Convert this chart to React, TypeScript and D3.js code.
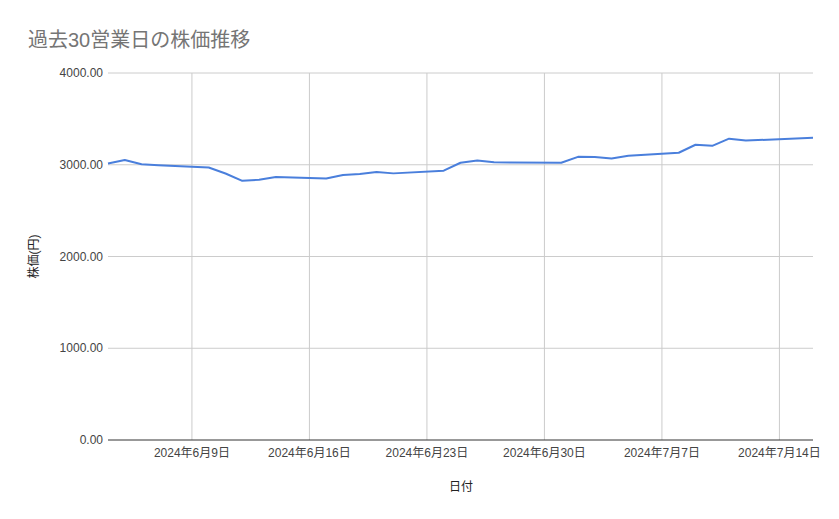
import React from "react";
import * as d3 from "d3";

const dates: string[] = [
  "2024-06-04", "2024-06-05", "2024-06-06", "2024-06-07",
  "2024-06-10", "2024-06-11", "2024-06-12", "2024-06-13", "2024-06-14",
  "2024-06-17", "2024-06-18", "2024-06-19", "2024-06-20", "2024-06-21",
  "2024-06-24", "2024-06-25", "2024-06-26", "2024-06-27", "2024-06-28",
  "2024-07-01", "2024-07-02", "2024-07-03", "2024-07-04", "2024-07-05",
  "2024-07-08", "2024-07-09", "2024-07-10", "2024-07-11", "2024-07-12",
  "2024-07-16",
];
const prices: number[] = [
  3014, 3052, 3006, 2995,
  2970, 2905, 2825, 2836, 2866,
  2850, 2888, 2899, 2921, 2906,
  2935, 3022, 3046, 3028, 3024,
  3022, 3086, 3084, 3068, 3097,
  3131, 3218, 3206, 3284, 3264,
  3293,
];
const xTickDates: string[] = ["2024-06-09", "2024-06-16", "2024-06-23", "2024-06-30", "2024-07-07", "2024-07-14"];
const yTicks: number[] = [0, 1000, 2000, 3000, 4000];

const W = 839;
const H = 519;
const M = { left: 108, right: 26, top: 73, bottom: 79 };
const FONT = "'Liberation Sans', Arial, 'Noto Sans CJK JP', sans-serif";

const parse = d3.timeParse("%Y-%m-%d");

export default function App() {
  const data = dates.map((d, i) => ({ date: parse(d) as Date, v: prices[i] }));
  const x = d3
    .scaleTime()
    .domain([parse(dates[0]) as Date, parse(dates[dates.length - 1]) as Date])
    .range([M.left, W - M.right]);
  const y = d3.scaleLinear().domain([0, 4000]).range([H - M.bottom, M.top]);
  const line = d3
    .line<{ date: Date; v: number }>()
    .x((d) => x(d.date))
    .y((d) => y(d.v));
  const fmtTick = (d: Date) => `${d.getFullYear()}年${d.getMonth() + 1}月${d.getDate()}日`;

  return (
    <svg
      width={W}
      height={H}
      style={{ position: "absolute", left: 0, top: 0, background: "#fff" }}
      fontFamily={FONT}
    >
      <rect x={0} y={0} width={W} height={H} fill="#fff" />
      <text x={28} y={47} fontSize={20} fill="#757575" fontFamily={FONT}>
        過去30営業日の株価推移
      </text>
      {yTicks.map((t) => (
        <g key={t}>
          {t !== 0 && (
            <line x1={M.left} x2={W - M.right} y1={y(t)} y2={y(t)} stroke="#cccccc" strokeWidth={1} />
          )}
          <text x={103} y={y(t) + 4} textAnchor="end" fontSize={12} fill="#444">
            {t.toFixed(2)}
          </text>
        </g>
      ))}
      {xTickDates.map((s) => {
        const d = parse(s) as Date;
        return (
          <g key={s}>
            <line x1={x(d)} x2={x(d)} y1={M.top} y2={H - M.bottom} stroke="#cccccc" strokeWidth={1} />
            <text x={x(d)} y={H - M.bottom + 17} textAnchor="middle" fontSize={12} fill="#444">
              {fmtTick(d)}
            </text>
          </g>
        );
      })}
      <line x1={M.left} x2={W - M.right} y1={y(0)} y2={y(0)} stroke="#333" strokeWidth={1} />
      <path d={line(data) || ""} fill="none" stroke="#4a7fdc" strokeWidth={2} strokeLinejoin="round" />
      <text x={461} y={491} textAnchor="middle" fontSize={12} fill="#222">
        日付
      </text>
      <text
        transform={`translate(38, ${(M.top + H - M.bottom) / 2}) rotate(-90)`}
        textAnchor="middle"
        fontSize={12}
        fill="#222"
      >
        株価(円)
      </text>
    </svg>
  );
}
